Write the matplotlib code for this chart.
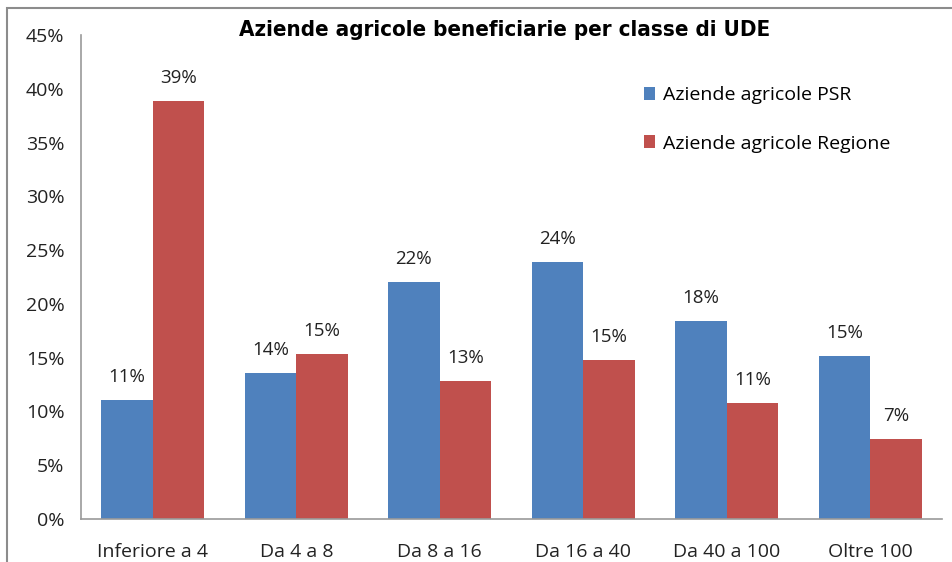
import matplotlib
matplotlib.use("Agg")
from matplotlib import pyplot as plt
from matplotlib.patches import Rectangle
import numpy as np

categories = ["Inferiore a 4", "Da 4 a 8", "Da 8 a 16", "Da 16 a 40", "Da 40 a 100", "Oltre 100"]
psr = [11.1, 13.6, 22.0, 23.9, 18.4, 15.2]
regione = [38.9, 15.3, 12.8, 14.8, 10.8, 7.4]
series_names = ["Aziende agricole PSR", "Aziende agricole Regione"]
title = "Aziende agricole beneficiarie per classe di UDE"

blue = "#4F81BD"
red = "#C0504D"
font = ["Open Sans", "DejaVu Sans"]
plt.rcParams["font.family"] = font

fig = plt.figure(figsize=(9.52, 5.62), dpi=100)
ax = fig.add_axes([81 / 952, 1 - 519 / 562, 861 / 952, 484 / 562])

# outer chart frame (runs past the right and bottom edges)
fig.patches.append(Rectangle((7 / 952, -0.1), 1.2, 1 - 8 / 562 + 0.1,
                             transform=fig.transFigure, fill=False,
                             edgecolor="#8c8c8c", lw=1.5))

x = np.arange(len(categories))
w = 0.36
b1 = ax.bar(x - w / 2, psr, w, color=blue, label=series_names[0])
b2 = ax.bar(x + w / 2, regione, w, color=red, label=series_names[1])

for bars, vals in ((b1, psr), (b2, regione)):
    for bar, v in zip(bars, vals):
        ax.text(bar.get_x() + bar.get_width() / 2, v + 1.3, f"{v:.0f}%",
                ha="center", va="bottom", fontsize=13.5, color="#222222")

ax.set_xlim(-0.5, len(categories) - 0.5)
ax.set_ylim(0, 45)
ax.set_yticks(np.arange(0, 46, 5))
ax.set_yticklabels([f"{t}%" for t in range(0, 46, 5)])
ax.set_xticks(x)
ax.set_xticklabels(categories)
ax.tick_params(axis="both", length=0, labelsize=14, colors="#222222")
ax.tick_params(axis="x", pad=17)
ax.tick_params(axis="y", pad=12)
for side in ("top", "right"):
    ax.spines[side].set_visible(False)
for side in ("left", "bottom"):
    ax.spines[side].set_color("#9a9a9a")
    ax.spines[side].set_linewidth(1.2)

fig.text(505 / 952, 1 - 30 / 562, title, ha="center", va="center",
         fontsize=16, fontweight="bold", fontstretch="condensed",
         family=["DejaVu Sans"])

ax.legend(loc="upper left", bbox_to_anchor=(0.633, 0.93), frameon=False,
          fontsize=14, handlelength=0.6, handleheight=0.6,
          handletextpad=0.4, labelspacing=1.55)

fig.savefig("out.png", dpi=100)
